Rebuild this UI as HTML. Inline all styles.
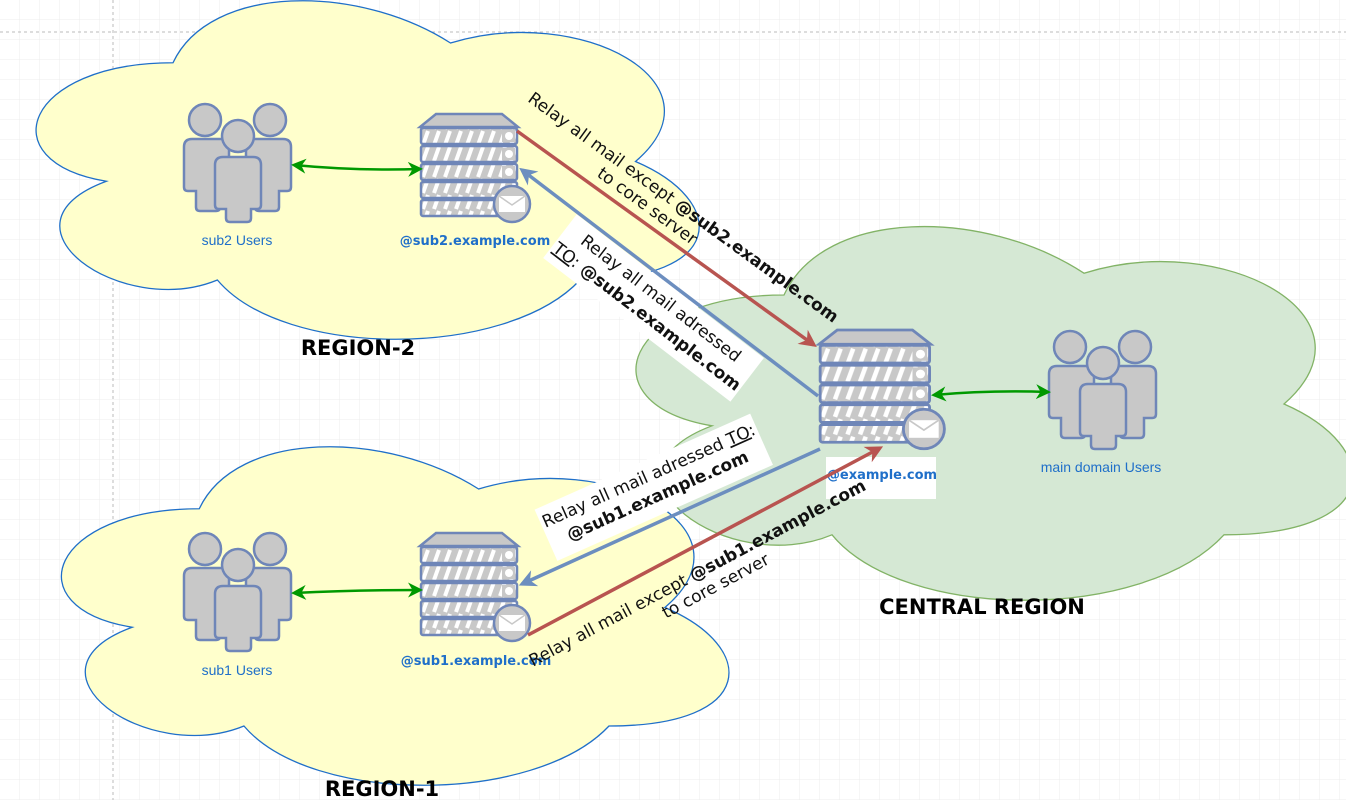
<!DOCTYPE html>
<html><head><meta charset="utf-8"><style>
html,body{margin:0;padding:0;background:#fff;}
svg{display:block;font-family:"DejaVu Sans","Liberation Sans",sans-serif;}
</style></head><body>
<svg width="1346" height="800" viewBox="0 0 1346 800" xmlns="http://www.w3.org/2000/svg">
<defs>
<pattern id="grid" width="20" height="20" patternUnits="userSpaceOnUse">
<path d="M20 0V20H0" fill="none" stroke="#ececec" stroke-width="1"/>
</pattern>
<pattern id="hatch" width="11" height="16" patternUnits="userSpaceOnUse">
<rect width="11" height="16" fill="#c8c8c8"/>
<path d="M3 15 L8 1" stroke="#fff" stroke-width="4"/>
</pattern>
<g id="srv">
<path d="M16 0 H82 L98 13 H0 Z" fill="#c8c8c8" stroke="#6f86b8" stroke-width="2.5"/>
<g stroke="#6f86b8" stroke-width="2.5">
<rect x="1" y="14" width="96" height="16" rx="2" fill="url(#hatch)"/>
<rect x="1" y="32" width="96" height="16" rx="2" fill="url(#hatch)"/>
<rect x="1" y="50" width="96" height="16" rx="2" fill="url(#hatch)"/>
<rect x="1" y="68" width="96" height="16" rx="2" fill="url(#hatch)"/>
<rect x="1" y="86" width="96" height="16" rx="2" fill="url(#hatch)"/>
</g>
<rect x="82" y="16" width="13" height="12" fill="#c8c8c8"/><rect x="82" y="34" width="13" height="12" fill="#c8c8c8"/><rect x="82" y="52" width="13" height="12" fill="#c8c8c8"/>
<circle cx="89" cy="22" r="4" fill="#fff"/><circle cx="89" cy="40" r="4" fill="#fff"/><circle cx="89" cy="58" r="4" fill="#fff"/>
<circle cx="92" cy="90" r="18" fill="#c8c8c8" stroke="#6f86b8" stroke-width="2.5"/>
<rect x="79" y="82" width="26" height="16" fill="#fff"/>
<path d="M79 82 L92 91 L105 82" fill="none" stroke="#c8c8c8" stroke-width="1.5"/>
</g>
<g id="usr" fill="#c8c8c8" stroke="#6f86b8" stroke-width="2.5">
<circle cx="22" cy="17" r="16"/>
<path d="M1 44 Q1 36 9 36 H38 Q46 36 46 44 V84 Q46 88 42 88 H37 V104 Q37 108 33 108 H17 Q13 108 13 104 V88 H5 Q1 88 1 84 Z"/>
<circle cx="87" cy="17" r="16"/>
<path d="M63 44 Q63 36 71 36 H100 Q108 36 108 44 V84 Q108 88 104 88 H96 V104 Q96 108 92 108 H76 Q72 108 72 104 V88 H67 Q63 88 63 84 Z"/>
<circle cx="55" cy="33" r="16"/>
<path d="M32 62 Q32 54 40 54 H70 Q78 54 78 62 V102 Q78 106 74 106 H68 V115 Q68 119 64 119 H47 Q43 119 43 115 V106 H36 Q32 106 32 102 Z"/>
</g>
<marker id="ar" viewBox="0 0 10 10" refX="8" refY="5" markerWidth="5" markerHeight="5" orient="auto-start-reverse"><path d="M0 0 L10 5 L0 10 L3 5Z" fill="#b85450"/></marker>
<marker id="ab" viewBox="0 0 10 10" refX="8" refY="5" markerWidth="5" markerHeight="5" orient="auto-start-reverse"><path d="M0 0 L10 5 L0 10 L3 5Z" fill="#6c8ebf"/></marker>
<marker id="ag" viewBox="0 0 10 10" refX="8" refY="5" markerWidth="6" markerHeight="6" orient="auto-start-reverse"><path d="M0 0 L10 5 L0 10 L3 5Z" fill="#009900"/></marker>
</defs>
<rect width="1346" height="800" fill="url(#grid)"/>
<line x1="0" y1="32" x2="1346" y2="32" stroke="#bbb" stroke-dasharray="3,3"/>
<line x1="113" y1="0" x2="113" y2="800" stroke="#bbb" stroke-dasharray="3,3"/>

<g transform="translate(-12,-36) scale(740,395)">
<path d="M0.25 0.25 C0.05 0.25 0 0.5 0.16 0.55 C0 0.66 0.18 0.9 0.31 0.8 C0.4 1 0.7 1 0.8 0.8 C1 0.8 1 0.6 0.875 0.5 C1 0.3 0.8 0.1 0.625 0.2 C0.5 0.05 0.3 0.05 0.25 0.25Z" fill="#ffffcc" stroke="#1f6fc9" stroke-width="1.3" vector-effect="non-scaling-stroke"/></g>
<g transform="translate(13,410) scale(745,395)">
<path d="M0.25 0.25 C0.05 0.25 0 0.5 0.16 0.55 C0 0.66 0.18 0.9 0.31 0.8 C0.4 1 0.7 1 0.8 0.8 C1 0.8 1 0.6 0.875 0.5 C1 0.3 0.8 0.1 0.625 0.2 C0.5 0.05 0.3 0.05 0.25 0.25Z" fill="#ffffcc" stroke="#1f6fc9" stroke-width="1.3" vector-effect="non-scaling-stroke"/></g>
<g transform="translate(584,186) scale(800,436)">
<path d="M0.25 0.25 C0.05 0.25 0 0.5 0.16 0.55 C0 0.66 0.18 0.9 0.31 0.8 C0.4 1 0.7 1 0.8 0.8 C1 0.8 1 0.6 0.875 0.5 C1 0.3 0.8 0.1 0.625 0.2 C0.5 0.05 0.3 0.05 0.25 0.25Z" fill="#d5e8d4" stroke="#82b366" stroke-width="1.3" vector-effect="non-scaling-stroke"/></g>

<g font-weight="bold" font-size="21" fill="#000">
<text x="358" y="355" text-anchor="middle">REGION-2</text>
<text x="382" y="796" text-anchor="middle">REGION-1</text>
<text x="982" y="614" text-anchor="middle">CENTRAL REGION</text>
</g>

<use href="#usr" x="183" y="103"/>
<use href="#usr" x="183" y="532"/>
<use href="#usr" x="1048" y="330"/>
<g font-size="14" fill="#1f6fc9" text-anchor="middle" font-family="Liberation Sans,sans-serif">
<text x="237" y="245">sub2 Users</text>
<text x="237" y="675">sub1 Users</text>
<text x="1101" y="472">main domain Users</text>
</g>

<use href="#srv" x="420" y="114"/>
<use href="#srv" x="420" y="533"/>
<rect x="826" y="457" width="110" height="42" fill="#fff"/>
<g transform="translate(819,330) scale(1.14,1.1)"><use href="#srv"/></g>
<g font-size="13" fill="#1f6fc9" font-weight="bold" text-anchor="middle">
<text x="475" y="245">@sub2.example.com</text>
<text x="476" y="665">@sub1.example.com</text>
<text x="882" y="479">@example.com</text>
</g>

<g stroke="#009900" stroke-width="2.5" fill="none">
<path d="M294 165 Q356 171 420 169" marker-start="url(#ag)" marker-end="url(#ag)"/>
<path d="M294 593 Q356 590 420 590" marker-start="url(#ag)" marker-end="url(#ag)"/>
<path d="M934 395 Q990 390 1048 392" marker-start="url(#ag)" marker-end="url(#ag)"/>
</g>

<line x1="517" y1="131" x2="814" y2="345" stroke="#b85450" stroke-width="3.5" marker-end="url(#ar)"/>
<line x1="818" y1="396" x2="522" y2="170" stroke="#6c8ebf" stroke-width="3.5" marker-end="url(#ab)"/>
<line x1="820" y1="449" x2="522" y2="584" stroke="#6c8ebf" stroke-width="3.5" marker-end="url(#ab)"/>
<line x1="528" y1="635" x2="880" y2="448" stroke="#b85450" stroke-width="3.5" marker-end="url(#ar)"/>

<g font-size="17" fill="#111" text-anchor="middle">
<g transform="translate(680,212) rotate(36)">
<text x="0" y="0">Relay all mail except <tspan font-weight="bold">@sub2.example.com</tspan></text>
<text x="-30" y="20">to core server</text>
</g>
<g transform="translate(652,310) rotate(37.5)">
<rect x="-118" y="-30" width="236" height="55" fill="#fff"/>
<text x="0" y="-9">Relay all mail adressed</text>
<text x="0" y="14"><tspan text-decoration="underline">TO</tspan>: <tspan font-weight="bold">@sub2.example.com</tspan></text>
</g>
<g transform="translate(655,490) rotate(-24)">
<rect x="-118" y="-31" width="236" height="56" fill="#fff"/>
<text x="0" y="-10">Relay all mail adressed <tspan text-decoration="underline">TO</tspan>:</text>
<text x="0" y="12" font-weight="bold">@sub1.example.com</text>
</g>
<g transform="translate(700,578) rotate(-28)">
<text x="0" y="0">Relay all mail except <tspan font-weight="bold">@sub1.example.com</tspan></text>
<text x="10" y="20">to core server</text>
</g>
</g>
</svg>
</body></html>
